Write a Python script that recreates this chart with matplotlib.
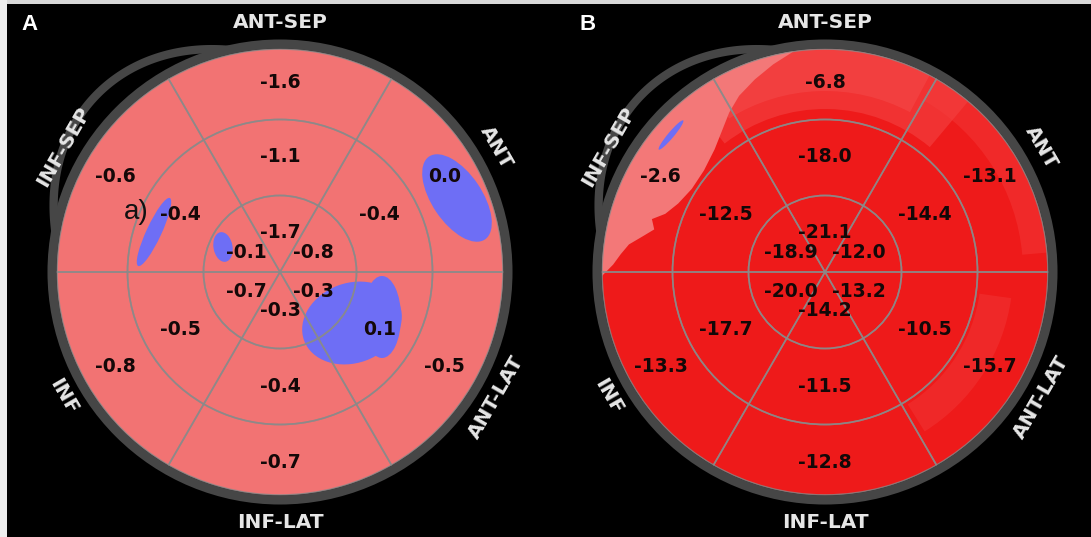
import numpy as np
import matplotlib.pyplot as plt
from matplotlib.patches import Wedge, Circle, Ellipse, Polygon, Rectangle

# angulo central de cada segmento y su nombre
angulos = [90, 30, -30, -90, -150, 150]
nombres = ["ANT-SEP", "ANT", "ANT-LAT", "INF-LAT", "INF", "INF-SEP"]

# panel A: basal (externo), medio, apical (interno)
basal_a = [-1.6, 0.0, -0.5, -0.7, -0.8, -0.6]
medio_a = [-1.1, -0.4, 0.1, -0.4, -0.5, -0.4]
apical_a = [-1.7, -0.8, -0.3, -0.3, -0.7, -0.1]

# panel B
basal_b = [-6.8, -13.1, -15.7, -12.8, -13.3, -2.6]
medio_b = [-18.0, -14.4, -10.5, -11.5, -17.7, -12.5]
apical_b = [-21.1, -12.0, -13.2, -14.2, -20.0, -18.9]

# zonas azules (x, y relativo al centro, ancho, alto, giro)
azul_a = [(177, 74, 100, 50, -56), (72, -51, 102, 80, 20), (102, -45, 38, 82, 0),
          (-126, 40, 75, 15, 65), (-57, 25, 19, 30, 10)]
azul_b = [(-154, 137, 38, 6, 50)]

# borde interno de la zona clara del panel B (angulo, radio)
claro_ang = [98, 104, 110, 116, 121, 126, 132, 140, 148, 155, 160, 163, 166, 169, 172, 175, 178, 181]
claro_r = [223, 214, 205, 196, 186, 175, 165, 158, 157, 162, 170, 181, 176, 186, 198, 205, 212, 223]

R = 223
radios = [R, 152.5, 76.5]
r_texto = [190, 115, 39]

fig = plt.figure(figsize=(10.91, 5.37), dpi=100, facecolor="black")
ax = fig.add_axes([0, 0, 1, 1])
ax.set_xlim(0, 1091)
ax.set_ylim(0, 537)
ax.axis("off")
ax.set_facecolor("black")

paneles = [
    ("A", (280, 265), "#f27373", [basal_a, medio_a, apical_a], azul_a),
    ("B", (825, 265), "#ee1a1a", [basal_b, medio_b, apical_b], azul_b),
]

for letra, c, color, anillos, azules in paneles:
    cx, cy = c
    # fondo
    ax.add_patch(Circle(c, R, facecolor=color, edgecolor="none", zorder=1))

    if letra == "B":
        # sombreado suave del mapa
        ax.add_patch(Wedge(c, R, 50, 128, width=60, facecolor="#f55050", alpha=0.45, edgecolor="none", zorder=2))
        ax.add_patch(Wedge(c, R, 62, 122, width=42, facecolor="#f55050", alpha=0.45, edgecolor="none", zorder=2))
        ax.add_patch(Wedge(c, R, 5, 60, width=25, facecolor="#f44040", alpha=0.4, edgecolor="none", zorder=2))
        ax.add_patch(Wedge(c, 188, -58, -8, width=32, facecolor="#f23a3a", alpha=0.45, edgecolor="none", zorder=2))
        t_rim = np.radians(np.linspace(claro_ang[0], claro_ang[-1], 40))
        borde = [(cx + R * np.cos(t), cy + R * np.sin(t)) for t in t_rim]
        for a, r in zip(claro_ang[::-1], claro_r[::-1]):
            borde.append((cx + r * np.cos(np.radians(a)), cy + r * np.sin(np.radians(a))))
        ax.add_patch(Polygon(borde, closed=True, facecolor="#f37878", edgecolor="none", zorder=2))

    for x, y, w, h, g in azules:
        ax.add_patch(Ellipse((cx + x, cy + y), w, h, angle=g, facecolor="#6e6ef5",
                             edgecolor="none", zorder=3))

    # lineas de los segmentos
    for i in range(3):
        r_out = radios[i]
        r_in = radios[i + 1] if i < 2 else 0
        for a in angulos:
            ax.add_patch(Wedge(c, r_out, a - 30, a + 30, width=r_out - r_in, facecolor="none",
                               edgecolor="#8a8a8a", linewidth=1.2, alpha=0.8, zorder=4))

    # anillo gris y el arco extra arriba a la izquierda
    ax.add_patch(Circle(c, R + 5, facecolor="none", edgecolor="#464646", linewidth=6.5, zorder=5))
    t = np.linspace(103, 170, 80)
    r_arco = R + 5 + 27 * np.sin(np.pi * (t - 103) / 67)
    ax.plot(cx + r_arco * np.cos(np.radians(t)), cy + r_arco * np.sin(np.radians(t)),
            color="#464646", linewidth=6, solid_capstyle="round", zorder=5)

    # valores
    for i, valores in enumerate(anillos):
        for a, v in zip(angulos, valores):
            x = cx + r_texto[i] * np.cos(np.radians(a))
            y = cy + r_texto[i] * np.sin(np.radians(a))
            ax.text(x, y, f"{v:.1f}", ha="center", va="center", fontsize=13.5,
                    fontweight="bold", color="#140808", zorder=6)

    # nombres de los segmentos
    for a, n in zip(angulos, nombres):
        x = cx + 250 * np.cos(np.radians(a))
        y = cy + 250 * np.sin(np.radians(a))
        rot = a - 90 if a > 0 else a + 90
        ax.text(x, y, n, ha="center", va="center", rotation=rot, fontsize=14.5,
                fontweight="bold", color="#e6e6e6", zorder=7)

    ax.text(cx - 250 if letra == "A" else cx - 237, 512, letra, ha="center", va="center",
            fontsize=16, fontweight="bold", color="white", family="Liberation Sans", zorder=7)

ax.text(280 - 144, 325, "a)", ha="center", va="center", fontsize=20, color="#111111",
        family="Liberation Sans", zorder=7)

# bordes blancos de la imagen
ax.add_patch(Rectangle((0, 533), 1091, 4, facecolor="#d9d9d9", edgecolor="none", zorder=8))
ax.add_patch(Rectangle((0, 0), 7, 537, facecolor="#eeeeee", edgecolor="none", zorder=8))

fig.savefig("out.png", dpi=100, facecolor="black")
